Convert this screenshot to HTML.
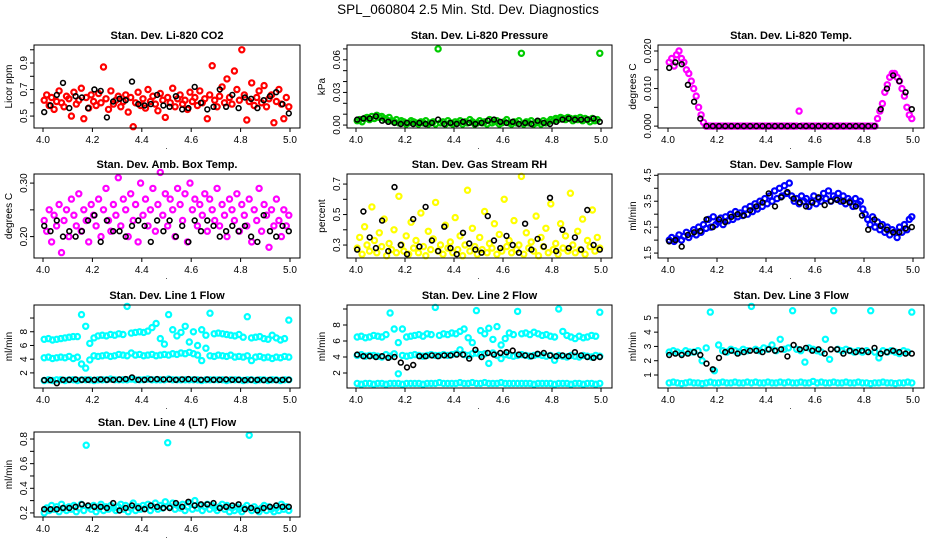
<!DOCTYPE html>
<html><head><meta charset="utf-8"><style>
html,body{margin:0;padding:0;background:#fff}
svg{display:block}
text{font-family:"Liberation Sans",Arial,sans-serif}
</style></head><body>
<svg id="fig" width="936" height="540" viewBox="0 0 936 540" xmlns="http://www.w3.org/2000/svg">
<rect width="936" height="540" fill="#fff"/>
<text x="468" y="14" text-anchor="middle" font-size="13.5">SPL_060804  2.5 Min. Std. Dev. Diagnostics</text>
</svg>
<script>
// x-axis ticks shared by all panels
const xTicks = [4.0, 4.2, 4.4, 4.6, 4.8, 5.0];
const xTickLabels = ["4.0", "4.2", "4.4", "4.6", "4.8", "5.0"];

// Panel 1: Li-820 CO2
const co2Red = [0.62,0.66,0.58,0.64,0.55,0.61,0.69,0.60,0.57,0.65,0.63,0.50,0.68,0.59,0.62,0.71,0.48,0.64,0.56,0.66,0.61,0.58,0.67,0.60,0.87,0.63,0.55,0.69,0.59,0.62,0.65,0.57,0.61,0.66,0.53,0.64,0.42,0.60,0.68,0.58,0.63,0.56,0.70,0.61,0.65,0.59,0.54,0.67,0.62,0.49,0.64,0.60,0.71,0.57,0.63,0.66,0.59,0.62,0.55,0.68,0.61,0.64,0.58,0.69,0.60,0.63,0.48,0.66,0.88,0.62,0.57,0.65,0.72,0.60,0.78,0.64,0.59,0.84,0.70,0.62,1.00,0.66,0.47,0.61,0.75,0.58,0.64,0.69,0.60,0.73,0.57,0.63,0.66,0.45,0.61,0.70,0.59,0.48,0.64,0.57];
const co2Black = [0.53,0.58,0.66,0.75,0.56,0.65,0.64,0.56,0.70,0.69,0.49,0.61,0.63,0.62,0.76,0.59,0.58,0.59,0.66,0.58,0.57,0.65,0.55,0.56,0.72,0.60,0.55,0.57,0.70,0.57,0.66,0.56,0.64,0.63,0.56,0.62,0.65,0.68,0.59,0.52];

// Panel 2: Li-820 pressure
const presGreen = [0.004,0.005,0.003,0.006,0.007,0.005,0.008,0.006,0.009,0.007,0.008,0.006,0.005,0.007,0.004,0.003,0.005,0.002,0.004,0.003,0.001,0.002,0.004,0.003,0.002,0.001,0.003,0.002,0.004,0.001,0.002,0.003,0.001,0.070,0.002,0.003,0.001,0.004,0.002,0.001,0.003,0.002,0.004,0.001,0.003,0.002,0.005,0.003,0.001,0.002,0.004,0.002,0.003,0.001,0.005,0.002,0.003,0.004,0.001,0.002,0.003,0.005,0.002,0.001,0.003,0.002,0.004,0.066,0.001,0.003,0.002,0.004,0.001,0.002,0.003,0.001,0.004,0.002,0.003,0.005,0.004,0.006,0.005,0.007,0.006,0.005,0.007,0.006,0.004,0.006,0.005,0.007,0.004,0.006,0.005,0.003,0.006,0.004,0.005,0.066];
const presBlack = [0.005,0.006,0.006,0.008,0.004,0.003,0.002,0.001,0.002,0.001,0.002,0.001,0.002,0.005,0.001,0.002,0.001,0.003,0.002,0.001,0.002,0.004,0.005,0.003,0.002,0.003,0.001,0.002,0.001,0.004,0.002,0.001,0.003,0.005,0.006,0.005,0.005,0.005,0.006,0.003];

// Panel 3: Li-820 temperature
const tempMag = [0.017,0.018,0.016,0.019,0.020,0.018,0.017,0.015,0.014,0.012,0.010,0.008,0.005,0.003,0.001,0,0,0,0,0,0,0,0,0,0,0,0,0,0,0,0,0,0,0,0,0,0,0,0,0,0,0,0,0,0,0,0,0,0,0,0,0,0,0.004,0,0,0,0,0,0,0,0,0,0,0,0,0,0,0,0,0,0,0,0,0,0,0,0,0,0,0,0,0,0,0,0.002,0.004,0.006,0.009,0.011,0.013,0.014,0.014,0.013,0.012,0.010,0.008,0.005,0.003,0.002];
const tempBlack = [0.0155,0.017,0.0165,0.011,0.0065,0.002,0,0,0,0,0,0,0,0,0,0,0,0,0,0,0,0,0,0,0,0,0,0,0,0,0,0,0,0,0.0045,0.010,0.0135,0.012,0.009,0.0045];

// Panel 4: ambient box temperature
const ambMag = [0.23,0.21,0.25,0.19,0.24,0.22,0.26,0.17,0.23,0.25,0.20,0.27,0.24,0.22,0.28,0.21,0.25,0.23,0.19,0.26,0.24,0.22,0.27,0.20,0.25,0.29,0.23,0.21,0.26,0.24,0.31,0.22,0.27,0.25,0.20,0.28,0.23,0.26,0.19,0.30,0.24,0.27,0.22,0.25,0.29,0.21,0.26,0.32,0.24,0.28,0.22,0.27,0.25,0.20,0.29,0.26,0.23,0.28,0.19,0.30,0.25,0.27,0.22,0.26,0.24,0.28,0.21,0.27,0.25,0.23,0.29,0.22,0.26,0.24,0.20,0.27,0.25,0.23,0.28,0.21,0.26,0.24,0.22,0.27,0.19,0.25,0.23,0.29,0.21,0.26,0.24,0.18,0.25,0.22,0.27,0.23,0.20,0.25,0.22,0.24];
const ambBlack = [0.22,0.21,0.23,0.20,0.21,0.20,0.21,0.23,0.24,0.19,0.23,0.21,0.21,0.20,0.22,0.23,0.22,0.19,0.23,0.21,0.23,0.20,0.22,0.19,0.23,0.21,0.23,0.22,0.20,0.21,0.22,0.21,0.22,0.20,0.19,0.24,0.21,0.20,0.22,0.21];

// Panel 5: gas stream RH
const rhYellow = [0.28,0.35,0.24,0.42,0.30,0.26,0.55,0.33,0.25,0.38,0.29,0.47,0.23,0.31,0.27,0.40,0.25,0.62,0.30,0.26,0.36,0.24,0.45,0.28,0.33,0.25,0.51,0.29,0.23,0.39,0.27,0.34,0.58,0.26,0.30,0.24,0.43,0.28,0.32,0.25,0.48,0.27,0.36,0.23,0.30,0.66,0.26,0.41,0.29,0.24,0.35,0.27,0.52,0.25,0.31,0.28,0.44,0.24,0.37,0.26,0.60,0.29,0.33,0.25,0.46,0.27,0.30,0.75,0.24,0.38,0.28,0.32,0.26,0.49,0.23,0.35,0.29,0.41,0.25,0.57,0.27,0.31,0.24,0.44,0.28,0.36,0.26,0.64,0.30,0.25,0.39,0.27,0.47,0.24,0.33,0.29,0.53,0.26,0.35,0.28];
const rhBlack = [0.27,0.52,0.35,0.28,0.46,0.26,0.68,0.30,0.24,0.47,0.29,0.55,0.33,0.26,0.42,0.28,0.24,0.38,0.31,0.27,0.25,0.49,0.33,0.28,0.36,0.30,0.25,0.44,0.27,0.34,0.29,0.61,0.26,0.40,0.28,0.35,0.27,0.53,0.30,0.27];

// Panel 6: sample flow
const flowBlue = [2.0,2.1,1.95,2.05,2.2,2.0,2.15,2.3,2.1,2.25,2.4,2.2,2.5,2.3,2.6,2.45,2.8,2.5,2.9,2.6,2.7,2.85,2.6,2.9,2.75,3.0,2.8,3.1,2.9,3.05,2.95,3.2,3.0,3.3,3.1,3.4,3.2,3.5,3.3,3.6,3.4,3.7,3.5,3.9,3.6,4.0,3.7,4.1,3.8,4.2,3.7,3.5,3.6,3.4,3.7,3.5,3.6,3.3,3.5,3.7,3.4,3.6,3.5,3.8,3.6,3.9,3.5,3.7,3.6,3.8,3.5,3.7,3.4,3.6,3.5,3.3,3.6,3.4,3.5,3.2,3.0,2.8,2.6,2.9,2.5,2.7,2.4,2.6,2.3,2.5,2.2,2.4,2.3,2.1,2.5,2.3,2.6,2.4,2.8,2.9];
const flowBlack = [1.95,2.0,1.75,2.2,2.3,2.35,2.8,2.5,2.8,2.7,2.9,3.0,2.95,3.15,3.3,3.45,3.8,3.3,3.65,3.85,3.6,3.45,3.3,3.45,3.65,3.35,3.5,3.55,3.5,3.45,3.3,2.95,2.4,2.8,2.55,2.4,2.3,2.3,2.45,2.5];

// Panel 7: line 1 flow
const l1CyanA = [6.9,7.0,6.8,6.9,7.0,7.1,7.2,7.3,7.3,10.5,8.8,6.3,7.1,7.4,7.5,7.4,7.6,7.5,7.7,7.6,11.7,7.8,7.9,8.0,7.9,8.1,8.6,9.2,7.0,6.2,10.5,8.3,7.4,7.9,8.8,6.5,8.0,6.0,8.3,7.5,10.7,7.7,7.8,7.7,7.6,7.5,7.4,7.6,7.2,10.2,7.1,7.2,7.3,7.0,6.9,7.5,7.1,6.8,7.0,9.7];
const l1CyanB = [4.2,4.3,4.1,4.2,4.3,4.2,4.4,4.1,4.3,3.3,2.7,3.9,4.5,4.4,4.5,4.6,4.4,4.5,4.7,4.6,4.5,4.9,4.6,4.7,4.5,4.6,4.7,4.5,4.6,4.7,4.6,4.8,4.7,4.9,4.8,5.0,4.8,4.6,3.8,5.6,4.5,4.4,4.6,4.5,4.4,4.6,4.3,4.4,4.3,4.5,3.8,4.3,4.4,4.2,4.3,4.1,4.3,4.2,4.4,4.3];
const l1CyanC = [0.9,1.0,0.9,1.0,1.0,0.9,1.0,1.0,0.9,1.0,1.0,1.0,0.9,1.0,1.0,1.0,1.1,1.0,1.0,1.0,1.0,1.1,1.0,1.0,1.0,1.1,1.0,1.0,1.0,1.0,1.1,1.0,1.0,1.0,1.0,1.0,1.0,1.0,0.9,1.0,1.0,1.0,1.0,1.0,0.9,1.0,1.0,1.0,0.9,1.0,1.0,0.9,1.0,1.0,0.9,1.0,1.0,0.9,1.0,1.0];
const l1Black = [0.95,0.95,0.5,1.0,1.0,1.05,1.0,1.0,1.0,1.05,1.0,1.0,1.05,1.1,1.35,1.0,1.0,1.05,1.1,1.05,1.05,1.0,1.05,1.1,1.05,1.0,1.05,1.0,1.0,1.05,1.0,1.0,0.95,1.0,1.0,0.95,1.0,0.95,1.0,1.0];

// Panel 8: line 2 flow
const l2CyanA = [6.5,6.6,6.4,6.5,6.7,6.6,6.5,6.8,9.5,7.5,5.8,7.5,6.5,6.6,6.7,6.8,6.6,6.9,6.8,10.2,6.7,6.9,6.8,7.0,6.9,7.2,7.5,6.4,5.8,9.8,7.3,6.9,7.6,6.2,7.8,5.5,6.3,7.0,6.8,9.7,6.9,7.0,6.8,7.1,6.9,6.7,6.8,6.6,6.5,10.0,7.2,6.7,6.5,6.3,6.6,6.4,6.5,6.7,6.6,9.6];
const l2CyanB = [4.2,4.3,4.1,4.2,4.2,4.1,4.0,4.3,4.1,4.4,1.9,4.2,4.1,4.2,4.3,4.2,4.1,4.2,4.3,4.2,4.2,4.3,4.2,4.3,4.4,4.9,4.3,4.2,4.4,4.5,4.3,4.4,3.2,4.5,4.2,3.8,4.3,4.2,4.1,4.2,4.3,4.2,4.1,4.2,4.3,4.2,4.1,4.2,3.6,4.2,4.1,4.0,4.2,4.1,4.0,4.2,4.1,4.0,4.2,4.1];
const l2CyanC = [0.7,0.6,0.7,0.7,0.6,0.7,0.7,0.6,0.7,0.7,0.7,0.6,0.7,0.7,0.7,0.7,0.6,0.7,0.7,0.7,0.8,0.7,0.7,0.7,0.7,0.8,0.7,0.7,0.8,0.7,0.7,0.8,0.7,0.7,0.7,0.8,0.7,0.7,0.7,0.7,0.7,0.7,0.7,0.6,0.7,0.7,0.7,0.7,0.6,0.7,0.7,0.7,0.6,0.7,0.7,0.6,0.7,0.7,0.6,0.7];
const l2Black = [4.3,4.1,4.1,4.0,4.1,3.9,4.0,3.3,2.7,3.0,4.1,4.1,4.2,4.1,4.2,4.2,4.3,4.3,3.8,4.9,4.0,4.5,4.3,4.5,4.6,4.8,4.3,4.2,4.1,4.4,4.5,4.2,4.1,4.2,4.1,4.6,4.2,4.0,3.9,4.0];

// Panel 9: line 3 flow
const l3CyanA = [2.6,2.7,2.6,2.5,2.7,2.6,2.6,2.7,2.0,2.9,5.4,1.3,3.1,2.7,2.6,2.8,2.7,2.6,2.8,2.7,5.8,2.8,2.7,2.9,2.8,3.1,2.7,3.5,2.8,2.9,5.5,2.8,2.7,1.9,2.9,2.8,2.7,2.6,3.5,2.1,5.5,2.8,2.7,2.8,2.7,2.6,2.7,2.6,2.7,5.5,2.6,2.2,2.7,2.6,2.7,2.6,2.5,2.7,2.6,5.4];
const l3CyanC = [0.45,0.5,0.45,0.4,0.45,0.5,0.45,0.45,0.4,0.45,0.5,0.45,0.45,0.5,0.45,0.45,0.5,0.45,0.45,0.5,0.45,0.5,0.45,0.45,0.5,0.45,0.45,0.5,0.45,0.5,0.45,0.45,0.5,0.45,0.45,0.55,0.45,0.5,0.45,0.45,0.5,0.45,0.45,0.5,0.45,0.45,0.5,0.45,0.45,0.4,0.45,0.45,0.5,0.45,0.45,0.4,0.45,0.45,0.5,0.45];
const l3Black = [2.4,2.5,2.4,2.5,2.6,2.4,1.8,1.4,2.2,2.6,2.7,2.5,2.6,2.7,2.7,2.6,2.8,2.7,2.8,2.3,3.1,2.8,2.9,2.7,2.8,2.5,2.8,2.8,2.5,2.7,2.6,2.7,2.6,2.9,2.5,2.6,2.7,2.6,2.5,2.5];

// Panel 10: line 4 (LT) flow
const l4Cyan = [0.20,0.24,0.22,0.26,0.23,0.25,0.21,0.27,0.24,0.22,0.25,0.23,0.26,0.21,0.24,0.27,0.22,0.75,0.25,0.23,0.26,0.21,0.24,0.27,0.22,0.25,0.23,0.26,0.24,0.22,0.25,0.27,0.23,0.26,0.21,0.24,0.28,0.22,0.25,0.23,0.26,0.24,0.27,0.22,0.25,0.28,0.23,0.26,0.24,0.29,0.77,0.25,0.28,0.23,0.26,0.24,0.27,0.22,0.25,0.28,0.23,0.30,0.24,0.26,0.22,0.25,0.27,0.23,0.26,0.24,0.22,0.25,0.27,0.23,0.26,0.21,0.24,0.22,0.25,0.23,0.21,0.24,0.26,0.83,0.22,0.25,0.23,0.21,0.24,0.26,0.22,0.25,0.23,0.21,0.24,0.22,0.27,0.23,0.25,0.22];
const l4Black = [0.23,0.23,0.23,0.24,0.24,0.25,0.27,0.26,0.25,0.25,0.24,0.28,0.22,0.24,0.26,0.24,0.23,0.26,0.25,0.24,0.24,0.28,0.25,0.29,0.26,0.27,0.27,0.28,0.24,0.25,0.26,0.27,0.23,0.24,0.22,0.24,0.25,0.26,0.25,0.25];

// Y-axis ticks & labels per panel
const yTicks1 = [0.5,0.6,0.7,0.8,0.9,1.0], yLabs1 = ["0.5","","0.7","","0.9",""];
const yTicks2 = [0,0.01,0.02,0.03,0.04,0.05,0.06,0.07], yLabs2 = ["0.00","","","0.03","","","0.06",""];
const yTicks3 = [0,0.005,0.010,0.015,0.020], yLabs3 = ["0.000","","0.010","","0.020"];
const yTicks4 = [0.20,0.25,0.30], yLabs4 = ["0.20","","0.30"];
const yTicks5 = [0.3,0.4,0.5,0.6,0.7], yLabs5 = ["0.3","","0.5","","0.7"];
const yTicks6 = [1.5,2.0,2.5,3.0,3.5,4.0,4.5], yLabs6 = ["1.5","","2.5","","3.5","","4.5"];
const yTicks7 = [2,4,6,8,10], yLabs7 = ["2","4","6","8",""];
const yTicks9 = [1,2,3,4,5], yLabs9 = ["1","2","3","4","5"];
const yTicks10 = [0.2,0.3,0.4,0.5,0.6,0.7,0.8], yLabs10 = ["0.2","","0.4","","0.6","","0.8"];

const NS = "http://www.w3.org/2000/svg";
const svg = document.getElementById('fig');
const cols = [{l:34,r:300,x0:43,x1:290},{l:347,r:612,x0:356,x1:601},{l:658,r:924,x0:668,x1:913}];
const rows = [{t:45,b:128},{t:174,b:258},{t:305,b:388},{t:432,b:517}];

function mk(tag, attrs, parent){
  const e = document.createElementNS(NS, tag);
  for (const k in attrs) e.setAttribute(k, attrs[k]);
  (parent||svg).appendChild(e);
  return e;
}

function panel(name, title, ylab, col, row, ymin, ymax, yt, yl, series){
  const C = cols[col], R = rows[row];
  const g = mk('g', {});
  
  
  const xs = v => C.x0 + (v - 4.0) * (C.x1 - C.x0);
  const ys = v => R.b - (v - ymin) / (ymax - ymin) * (R.b - R.t);
  const t = mk('text', {x:(C.l+C.r)/2, y:R.t-6, 'text-anchor':'middle', 'font-size':'11', 'font-weight':'bold'}, g);
  t.textContent = title;
  
  
  series.forEach(s => {
    const isBlack = s.color === '#000000';
    const sg = mk('g', {fill:'none', stroke:s.color, 'stroke-width': isBlack ? '1.6' : '2.2'}, g);
    
    
    const n = s.vals.length;
    s.vals.forEach((v, i) => {
      const xv = 4.0 + 0.99 * i / (n - 1) + 0.005;
      const c = mk('circle', {cx:xs(xv).toFixed(1), cy:ys(v).toFixed(1), r: isBlack ? '2.4' : '2.6'}, sg);
      
      
    });
  });
  const b = mk('rect', {x:C.l, y:R.t, width:C.r-C.l, height:R.b-R.t, fill:'none', stroke:'#000', 'stroke-width':'1'}, g);
  
  
  const xa = mk('g', {}, g);
  
  
  xTicks.forEach((v, i) => {
    const x = xs(v);
    mk('line', {x1:x, x2:x, y1:R.b, y2:R.b+4, stroke:'#000'}, xa);
    const tl = mk('text', {x:x, y:R.b+15, 'text-anchor':'middle', 'font-size':'10'}, xa);
    tl.textContent = xTickLabels[i];
  });
  const dot = mk('text', {x:(C.x0+C.x1)/2, y:R.b+21, 'text-anchor':'middle', 'font-size':'8'}, xa);
  dot.textContent = '.';
  const ya = mk('g', {}, g);
  
  
  yt.forEach((v, i) => {
    const y = ys(v);
    mk('line', {x1:C.l-4, x2:C.l, y1:y, y2:y, stroke:'#000'}, ya);
    if (yl[i]) {
      const tl = mk('text', {x:C.l-7, y:y, 'text-anchor':'middle', 'font-size':'10', transform:`rotate(-90 ${C.l-7} ${y})`}, ya);
      tl.textContent = yl[i];
    }
  });
  const yc = (R.t+R.b)/2;
  const ylt = mk('text', {x:C.l-22, y:yc, 'text-anchor':'middle', 'font-size':'10', transform:`rotate(-90 ${C.l-22} ${yc})`}, ya);
  ylt.textContent = ylab;
  
  
}

const RED='#ff0000', BLK='#000000', GRN='#00cc00', MAG='#ff00ff', YEL='#ffff00', BLU='#0000ff', CYN='#00ffff';
panel('panel-co2','Stan. Dev. Li-820 CO2','Licor ppm',0,0,0.41,1.036,yTicks1,yLabs1,[{name:'co2-series',vals:co2Red,color:RED},{name:'co2-black-series',vals:co2Black,color:BLK}]);
panel('panel-pressure','Stan. Dev. Li-820 Pressure','kPa',1,0,-0.0027,0.0736,yTicks2,yLabs2,[{name:'pressure-series',vals:presGreen,color:GRN},{name:'pressure-black-series',vals:presBlack,color:BLK}]);
panel('panel-temp','Stan. Dev. Li-820 Temp.','degrees C',2,0,-0.0005,0.0216,yTicks3,yLabs3,[{name:'temp-series',vals:tempMag,color:MAG},{name:'temp-black-series',vals:tempBlack,color:BLK}]);
panel('panel-amb-temp','Stan. Dev. Amb. Box Temp.','degrees C',0,1,0.16,0.317,yTicks4,yLabs4,[{name:'amb-temp-series',vals:ambMag,color:MAG},{name:'amb-temp-black-series',vals:ambBlack,color:BLK}]);
panel('panel-rh','Stan. Dev. Gas Stream RH','percent',1,1,0.215,0.766,yTicks5,yLabs5,[{name:'rh-series',vals:rhYellow,color:YEL},{name:'rh-black-series',vals:rhBlack,color:BLK}]);
panel('panel-sample-flow','Stan. Dev. Sample Flow','ml/min',2,1,1.31,4.55,yTicks6,yLabs6,[{name:'flow-series',vals:flowBlue,color:BLU},{name:'flow-black-series',vals:flowBlack,color:BLK}]);
panel('panel-line1','Stan. Dev. Line 1 Flow','ml/min',0,2,-0.2,11.9,yTicks7,yLabs7,[{name:'line1-a',vals:l1CyanA,color:CYN},{name:'line1-b',vals:l1CyanB,color:CYN},{name:'line1-c',vals:l1CyanC,color:CYN},{name:'line1-black',vals:l1Black,color:BLK}]);
panel('panel-line2','Stan. Dev. Line 2 Flow','ml/min',1,2,0.125,10.5,yTicks7,yLabs7,[{name:'line2-a',vals:l2CyanA,color:CYN},{name:'line2-b',vals:l2CyanB,color:CYN},{name:'line2-c',vals:l2CyanC,color:CYN},{name:'line2-black',vals:l2Black,color:BLK}]);
panel('panel-line3','Stan. Dev. Line 3 Flow','ml/min',2,2,0.09,5.9,yTicks9,yLabs9,[{name:'line3-a',vals:l3CyanA,color:CYN},{name:'line3-c',vals:l3CyanC,color:CYN},{name:'line3-black',vals:l3Black,color:BLK}]);
panel('panel-line4','Stan. Dev. Line 4 (LT) Flow','ml/min',0,3,0.167,0.857,yTicks10,yLabs10,[{name:'line4-series',vals:l4Cyan,color:CYN},{name:'line4-black',vals:l4Black,color:BLK}]);
</script>
</body></html>
